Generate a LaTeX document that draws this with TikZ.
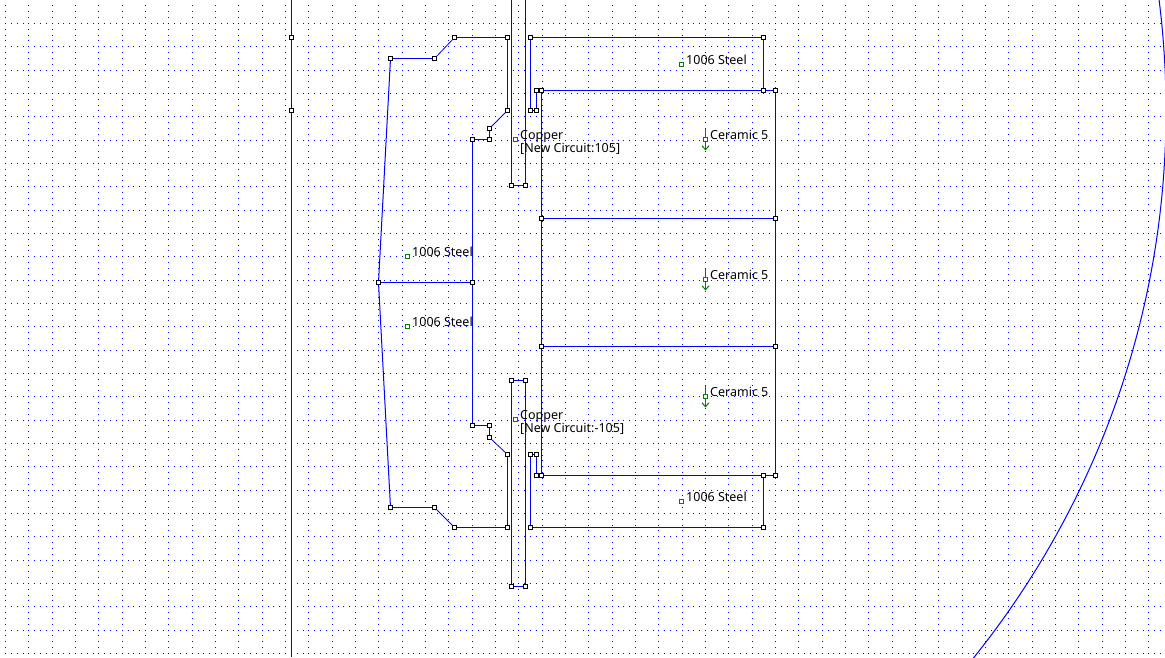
\documentclass[tikz,border=0pt]{standalone}
\usepackage{fontspec}
\setmainfont{Noto Sans}
\usetikzlibrary{arrows.meta}
\definecolor{wire}{RGB}{0,0,255}
\definecolor{markgreen}{RGB}{0,128,0}
\tikzset{
  wireline/.style={draw=wire,line width=1.35pt},
  slantline/.style={draw=wire,line width=1pt},
  diagline/.style={draw=wire,line width=0.8pt},
  rowdots/.style={draw=wire,line width=1.1pt,dash pattern=on 1.1pt off 4.9pt on 1.1pt off 4.9pt on 1.1pt off 4.9pt on 1.1pt off 3.9pt on 1.1pt off 4.9pt on 1.1pt off 4.9pt},
  coldots/.style={draw=wire,line width=1.1pt,dash pattern=on 1.1pt off 4.9pt on 1.1pt off 4.9pt on 1.1pt off 4.9pt on 1.1pt off 4.9pt on 1.1pt off 4.9pt on 1.1pt off 3.9pt},
  vertex/.style={draw=black,fill=white,line width=1.2pt,minimum size=4.2pt,inner sep=0pt,outer sep=0pt,rectangle},
  blockmark/.style={draw=markgreen,fill=white,line width=1.2pt,minimum size=4.2pt,inner sep=0pt,outer sep=0pt,rectangle},
  lab/.style={font=\fontsize{12.5}{12}\selectfont,text=black,inner sep=0pt,anchor=base west,align=left},
  forcearrow/.style={draw=markgreen,line width=1pt,-{Straight Barb[length=4pt,width=7pt]}}
}
\begin{document}
\begin{tikzpicture}[x=1pt,y=-1pt]
\useasboundingbox (0,0) rectangle (1165,657);
\fill[white] (0,0) rectangle (1165,657);
\begin{scope}
\clip (0,0) rectangle (1165,657);
% grid
\foreach \k in {0,...,49}{
  \pgfmathsetmacro{\qq}{round(5+70*\k/3)+0.5}
  \draw[coldots] (\qq,5) -- (\qq,657);
}
\foreach \k in {1,...,28}{
  \pgfmathsetmacro{\pp}{round(-0.5+70*\k/3)+0.5}
  \draw[rowdots] (5,\pp) -- (1165,\pp);
}
% axis and outer arc
\coordinate (axT) at (291.5,0);
\coordinate (axB) at (291.5,657);
\draw[wireline] (axT) -- (axB);
\coordinate (c) at (291.5,110.5);
\draw[slantline] (c) circle[radius=874.5];
\end{scope}
% vertices
\node[vertex] (ax1) at (291.5,37.5) {};
\node[vertex] (ax2) at (291.5,110.5) {};
\node[vertex] (a1) at (390.5,58.5) {};
\node[vertex] (a2) at (434.5,58.5) {};
\node[vertex] (a3) at (454.5,37.5) {};
\node[vertex] (a4) at (507.5,37.5) {};
\node[vertex] (a5) at (507.5,110.5) {};
\node[vertex] (a6) at (489.5,128.5) {};
\node[vertex] (a7) at (489.5,139.5) {};
\node[vertex] (a8) at (472.5,139.5) {};
\node[vertex] (m1) at (378.5,282.5) {};
\node[vertex] (m2) at (472.5,282.5) {};
\node[vertex] (b1) at (390.5,507.5) {};
\node[vertex] (b2) at (434.5,507.5) {};
\node[vertex] (b3) at (454.5,527.5) {};
\node[vertex] (b4) at (507.5,527.5) {};
\node[vertex] (b5) at (507.5,454.5) {};
\node[vertex] (b6) at (489.5,437.5) {};
\node[vertex] (b7) at (489.5,425.5) {};
\node[vertex] (b8) at (472.5,425.5) {};
\node[vertex] (t1) at (511.5,185.5) {};
\node[vertex] (t2) at (525.5,185.5) {};
\coordinate (t1top) at (511.5,0);
\coordinate (t2top) at (525.5,0);
\node[vertex] (u1) at (511.5,380.5) {};
\node[vertex] (u2) at (525.5,380.5) {};
\node[vertex] (u3) at (511.5,586.5) {};
\node[vertex] (u4) at (525.5,586.5) {};
\node[vertex] (r1) at (530.5,37.5) {};
\node[vertex] (r2) at (763.5,37.5) {};
\node[vertex] (r3) at (763.5,90.5) {};
\node[vertex] (r4) at (775.5,90.5) {};
\node[vertex] (r5) at (541.5,90.5) {};
\node[vertex] (r6) at (536.5,90.5) {};
\node[vertex] (r7) at (536.5,110.5) {};
\node[vertex] (r8) at (530.5,110.5) {};
\node[vertex] (s1) at (541.5,218.5) {};
\node[vertex] (s2) at (775.5,218.5) {};
\node[vertex] (s3) at (541.5,346.5) {};
\node[vertex] (s4) at (775.5,346.5) {};
\node[vertex] (q1) at (530.5,527.5) {};
\node[vertex] (q2) at (763.5,527.5) {};
\node[vertex] (q3) at (763.5,475.5) {};
\node[vertex] (q4) at (775.5,475.5) {};
\node[vertex] (q5) at (541.5,475.5) {};
\node[vertex] (q6) at (536.5,475.5) {};
\node[vertex] (q7) at (536.5,454.5) {};
\node[vertex] (q8) at (530.5,454.5) {};
% connectors
\foreach \from/\to in {a1/a2,a3/a4,a4/a5,a6/a7,a7/a8,a8/m2,m2/b8,b8/b7,b7/b6,b5/b4,b4/b3,b2/b1,m1/m2,
  t1top/t1,t1/t2,t2/t2top,u1/u2,u2/u4,u4/u3,u3/u1,r8/r1,r1/r2,r2/r3,r8/r7,r7/r6,r6/r5,r5/r3,r3/r4,r4/s2,s2/s4,s4/q4,q4/q3,q3/q5,q5/q6,q6/q7,q7/q8,q8/q1,q1/q2,q2/q3,r5/s1,s1/s3,s3/q5,s1/s2,s3/s4}{
  \draw[wireline] (\from) -- (\to);
}
\draw[diagline] (a2) -- (a3);
\draw[diagline] (a5) -- (a6);
\draw[diagline] (b6) -- (b5);
\draw[diagline] (b3) -- (b2);
\draw[slantline] (a1) -- (m1);
\draw[slantline] (m1) -- (b1);
% block labels
\node[blockmark] (st1) at (681.5,64.5) {};
\node[lab] (st1t) at (686,64) {1006 Steel};
\node[blockmark] (st2) at (407.5,256.5) {};
\node[lab] (st2t) at (412,256) {1006 Steel};
\node[blockmark] (st3) at (407.5,326.5) {};
\node[lab] (st3t) at (412,326) {1006 Steel};
\node[blockmark] (st4) at (681.5,501.5) {};
\node[lab] (st4t) at (686,501) {1006 Steel};
\node[blockmark] (cu1) at (515.5,139.5) {};
\node[lab] (cu1t) at (520,139.5) {Copper};
\node[lab] (cu1c) at (520,152) {[New Circuit:105]};
\node[blockmark] (cu2) at (515.5,419.5) {};
\node[lab] (cu2t) at (520,419.5) {Copper};
\node[lab] (cu2c) at (520,432) {[New Circuit:-105]};
\foreach \nm/\yy in {c1/139.5,c2/279.5,c3/396.5}{
  \coordinate (\nm top) at (705.5,\yy-11);
  \coordinate (\nm bot) at (705.5,\yy+11);
  \draw[forcearrow] (\nm top) -- (\nm bot);
  \node[blockmark] (\nm) at (705.5,\yy) {};
  \node[lab] at (710,\yy) {Ceramic 5};
}
\end{tikzpicture}
\end{document}
